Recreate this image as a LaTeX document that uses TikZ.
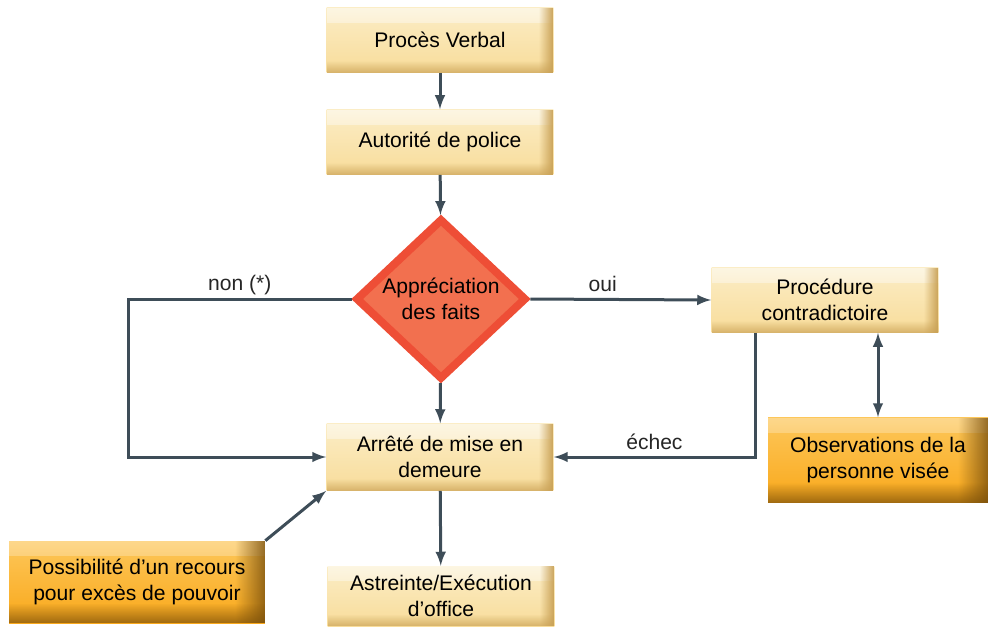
\documentclass[tikz,border=0pt]{standalone}
\usepackage{fontspec}
\setmainfont{Liberation Sans}
\usetikzlibrary{%
  arrows,%
  calc,%
  fadings,%
  shapes.geometric%
}
\tikzset{>=latex}
\definecolor{boxlight}{HTML}{FBEDC6}
\definecolor{boxmid}{HTML}{F8DC9A}
\definecolor{boxdark}{HTML}{C9A156}
\definecolor{orlight}{HTML}{FDC75A}
\definecolor{ormid}{HTML}{F9A81B}
\definecolor{ordark}{HTML}{7A500C}
\definecolor{diafill}{HTML}{F2704F}
\definecolor{diaedge}{HTML}{EE4E36}
\definecolor{fleche}{HTML}{3E4D58}
\tikzfading[name=fonduest,left color=transparent!100,right color=transparent!0]
\tikzfading[name=fondusud,top color=transparent!100,bottom color=transparent!0]
\tikzfading[name=fondunord,top color=transparent!0,bottom color=transparent!100]
\tikzset{
  etape/.style={rectangle,align=center,inner sep=2pt,minimum width=4.54cm,minimum height=1.3cm,
    top color=boxlight,bottom color=boxmid,font=\fontsize{12}{14.5}\selectfont,
    path picture={
      \fill[white,opacity=.5,path fading=fondunord] (path picture bounding box.north west) rectangle ([yshift=-0.3cm]path picture bounding box.north east);
      \fill[boxdark,path fading=fonduest] ([xshift=-0.3cm]path picture bounding box.north east) rectangle (path picture bounding box.south east);
      \fill[boxdark,opacity=.7,path fading=fondusud] ([yshift=0.24cm]path picture bounding box.south west) rectangle (path picture bounding box.south east);
    }},
  recours/.style={rectangle,align=center,inner sep=2pt,
    top color=orlight,bottom color=ormid,font=\fontsize{12}{14.5}\selectfont,
    path picture={
      \fill[white,opacity=.3,path fading=fondunord] (path picture bounding box.north west) rectangle ([yshift=-0.3cm]path picture bounding box.north east);
      \fill[ordark,opacity=.8,path fading=fonduest] ([xshift=-0.6cm]path picture bounding box.north east) rectangle (path picture bounding box.south east);
      \fill[ordark,opacity=.7,path fading=fondusud] ([yshift=0.4cm]path picture bounding box.south west) rectangle (path picture bounding box.south east);
    }},
  decision/.style={diamond,align=center,inner sep=0pt,minimum width=3.42cm,minimum height=3.22cm,
    fill=diafill,draw=diaedge,line width=0.16cm,font=\fontsize{12}{14.5}\selectfont},
  fleche/.style={draw=fleche,line width=0.06cm,->},
  etiquette/.style={font=\fontsize{12}{14.5}\selectfont,text=black!85}
}

\begin{document}
\begin{tikzpicture}[x=0.02cm,y=-0.02cm]
  \useasboundingbox (0,0) rectangle (992,627);
  \node[etape] (pv) at (440,40) {Procès Verbal};
  \node[etape] (autorite) at (440,142) {Autorité de police};
  \node[decision] (appreciation) at (441,299) {Appréciation\\des faits};
  \node[etape] (procedure) at (825,300) {Procédure\\contradictoire};
  \node[etape,minimum height=1.34cm] (arrete) at (440,457) {Arrêté de mise en\\demeure};
  \node[etape,minimum height=1.2cm] (astreinte) at (441,596) {Astreinte/Exécution\\d’office};
  \node[recours,minimum width=4.4cm,minimum height=1.7cm] (observations) at (878,460) {Observations de la\\personne visée};
  \node[recours,minimum width=5.12cm,minimum height=1.64cm] (possibilite) at (137,582) {Possibilité d’un recours\\pour excès de pouvoir};
  \coordinate (coinnon) at (128,299);
  \coordinate (coinechec) at (755,0);
  \draw[fleche] (pv) -- (autorite);
  \draw[fleche] (autorite) -- (appreciation);
  \draw[fleche] (appreciation.west) -- node[etiquette,above=-2pt,pos=0.5] {non (*)} (coinnon) |- (arrete.west);
  \draw[fleche] (appreciation.east) -- node[etiquette,above,pos=0.4] {oui} (procedure.west);
  \draw[fleche] (appreciation) -- (arrete);
  \draw[fleche] (procedure.south -| coinechec) |- node[etiquette,above,pos=0.75] {échec} (arrete.east);
  \draw[fleche,<->] (procedure.south -| observations.north) -- (observations.north);
  \draw[fleche] (possibilite.north east) -- (arrete.south west);
  \draw[fleche] (arrete) -- (astreinte);
\end{tikzpicture}
\end{document}
